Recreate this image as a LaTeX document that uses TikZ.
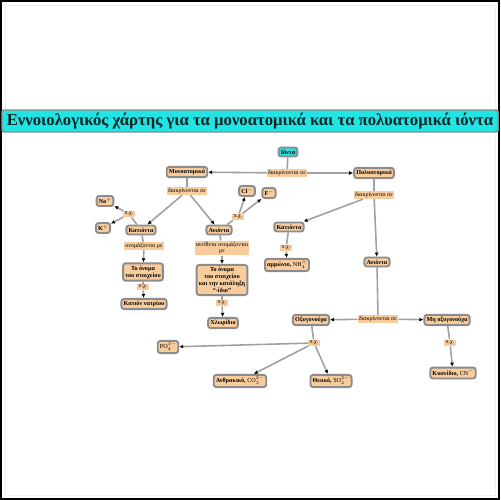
\documentclass[tikz,border=0pt]{standalone}
\usepackage{fontspec}
\setmainfont{Liberation Serif}
\usepackage{tikz}
\usetikzlibrary{arrows.meta, positioning}
\definecolor{peachfill}{HTML}{F8CC9C}
\definecolor{boxgray}{HTML}{8C8C8C}
\definecolor{linkgray}{HTML}{A0A0A0}
\definecolor{ioncyan}{HTML}{22E4E4}
\definecolor{titleink}{HTML}{0C2424}

\begin{document}
\begin{tikzpicture}[
    x=0.04cm, y=-0.04cm,
    box/.style={draw=boxgray, line width=2.2pt, rounded corners=3pt, fill=peachfill, font=\fontsize{7}{8}\selectfont\bfseries, inner sep=2.5pt, align=center},
    ionbox/.style={box, fill=ioncyan},
    lbl/.style={fill=peachfill, font=\fontsize{6.8}{7.6}\selectfont, inner sep=1.5pt, align=center},
    conn/.style={draw=linkgray, line width=1.8pt},
    arr/.style={conn, -{Latex[length=4.5pt, width=4.5pt, color=black]}},
]
\useasboundingbox (0,0) rectangle (500,500);
\draw[black, line width=2pt] (1,1) rectangle (499,499);
\draw[black!6, line width=0.6pt] (5,5) rectangle (495,495);

% Title
\node[draw=boxgray, line width=1.6pt, rounded corners=2pt, fill=ioncyan, minimum width=19.84cm, minimum height=0.88cm,
      font=\fontsize{19}{21}\selectfont\bfseries, text=titleink] (title) at (250,121)
      {Εννοιολογικός χάρτης για τα μονοατομικά και τα πολυατομικά ιόντα};

% Top level
\node[ionbox] (ions) at (288,152) {Ιόντα};
\node[lbl] (split) at (287,173) {διακρίνονται σε};
\node[box] (mono) at (187,172) {Μονοατομικά};
\node[box] (poly) at (374,173) {Πολυατομικά};

% Monatomic branch
\node[lbl] (monosplit) at (187,191) {διακρίνονται σε};
\node[box] (monocat) at (141,230) {Κατιόντα};
\node[box] (monoan) at (219,230) {Ανιόντα};

\node[lbl] (egna) at (129,214) {π.χ.};
\node[box] (na) at (105,201) {Na$^+$};
\node[box] (k) at (103,228) {K$^+$};

\node[lbl] (egcl) at (238,217) {π.χ.};
\node[box] (cl) at (247,191) {Cl$^-$};
\node[box] (f) at (269,193) {F$^-$};

\node[lbl] (catname) at (144,246) {ονομάζονται με};
\node[box] (catrule) at (143,272) {Το όνομα\\του στοιχείου};
\node[lbl] (egsodium) at (143,287) {π.χ.};
\node[box] (sodium) at (144,304) {Κατιόν νατρίου};

\node[lbl] (anname) at (222,248) {αντίθετα ονομάζονται\\με};
\node[box] (anrule) at (222,280) {Το όνομα\\του στοιχείου\\και την κατάληξη\\“-ίδιο”};
\node[lbl] (egchlor) at (222,303) {π.χ.};
\node[box] (chloride) at (223,323) {Χλωρίδιο};

% Polyatomic branch
\node[lbl] (polysplit) at (374,195) {διακρίνονται σε};
\node[box] (polycat) at (289,227) {Κατιόντα};
\node[lbl] (egammon) at (286,248) {π.χ.};
\node[box] (ammonium) at (287,265) {αμμώνιο, $\mathrm{NH}_4^+$};
\node[box] (polyan) at (377,262) {Ανιόντα};

\node[lbl] (ansplit) at (378,319) {διακρίνονται σε};
\node[box] (oxy) at (311,320) {Οξυγονούχα};
\node[box] (nonoxy) at (447,320) {Μη οξυγονούχα};

\node[lbl] (egoxy) at (314,343) {π.χ.};
\node[box] (phosph) at (168,347) {$\mathrm{PO}_4^{3-}$};
\node[box] (carb) at (240,381) {Ανθρακικό, $\mathrm{CO}_3^{2-}$};
\node[box] (sulf) at (331,381) {Θειικό, $\mathrm{SO}_4^{2-}$};

\node[lbl] (egcyan) at (450,343) {π.χ.};
\node[box] (cyanide) at (453,373) {Κυανίδιο, $\mathrm{CN}^-$};

% Connectors
\draw[conn] (ions) -- (split);
\draw[arr] (split) -- (mono);
\draw[arr] (split) -- (poly);

\draw[conn] (mono) -- (monosplit);
\draw[arr] (monosplit) -- (monocat);
\draw[arr] (monosplit) -- (monoan);

\draw[conn] (monocat) -- (egna);
\draw[arr] (egna) -- (na);
\draw[arr] (egna) -- (k);

\draw[conn] (monoan) -- (egcl);
\draw[arr] (egcl) -- (cl);
\draw[arr] (egcl) -- (f);

\draw[conn] (monocat) -- (catname);
\draw[arr] (catname) -- (catrule);
\draw[conn] (catrule) -- (egsodium);
\draw[arr] (egsodium) -- (sodium);

\draw[conn] (monoan) -- (anname);
\draw[arr] (anname) -- (anrule);
\draw[conn] (anrule) -- (egchlor);
\draw[arr] (egchlor) -- (chloride);

\draw[conn] (poly) -- (polysplit);
\draw[arr] (polysplit) -- (polycat);
\draw[arr] (polysplit) -- (polyan);
\draw[conn] (polycat) -- (egammon);
\draw[arr] (egammon) -- (ammonium);

\draw[conn] (polyan) -- (ansplit);
\draw[arr] (ansplit) -- (oxy);
\draw[arr] (ansplit) -- (nonoxy);

\draw[conn] (oxy) -- (egoxy);
\draw[arr] (egoxy) -- (phosph);
\draw[arr] (egoxy) -- (carb);
\draw[arr] (egoxy) -- (sulf);

\draw[conn] (nonoxy) -- (egcyan);
\draw[arr] (egcyan) -- (cyanide);

\end{tikzpicture}
\end{document}
